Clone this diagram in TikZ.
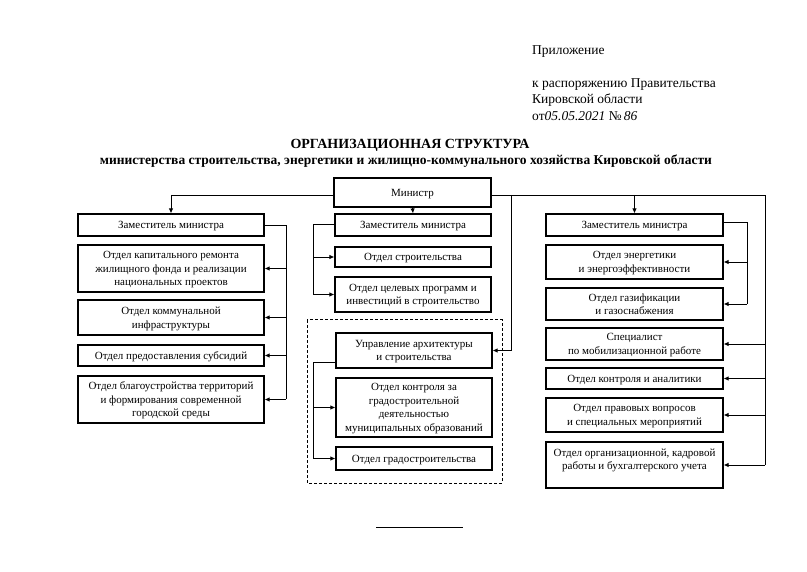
\documentclass[tikz,border=0pt]{standalone}
\usepackage{fontspec}
\setmainfont{Liberation Serif}
\usetikzlibrary{arrows.meta}
\begin{document}
\begin{tikzpicture}[x=1pt,y=-1pt,
  box/.style={draw, line width=1.1pt, inner sep=1pt, align=center, text depth=0pt, font=\fontsize{11}{13.5}\selectfont},
  arr/.style={line width=0.9pt, -{Latex[length=5pt,width=4.5pt]}},
  ln/.style={line width=0.9pt},
  hdr/.style={anchor=west, inner sep=0pt, font=\fontsize{13.5}{15}\selectfont}]
\useasboundingbox[fill=white] (0,0) rectangle (807,572);
% header
\node[hdr] (h1) at (532,52) {Приложение};
\node[hdr] (h2) at (532,85) {к распоряжению Правительства};
\node[hdr] (h3) at (532,100) {Кировской области};
\node[hdr] (h4) at (532,116) {от{\itshape 05.05.2021} №{\itshape\,86}};
\node[font=\bfseries\fontsize{14}{16}\selectfont, inner sep=0pt] (t1) at (410,145) {ОРГАНИЗАЦИОННАЯ СТРУКТУРА};
\node[font=\bfseries\fontsize{13.5}{15}\selectfont, inner sep=0pt] (t2) at (406,161) {министерства строительства, энергетики и жилищно-коммунального хозяйства Кировской области};
% boxes
\node[box, minimum width=157pt, minimum height=29pt] (min) at (412.5,192.5) {Министр};
\node[box, minimum width=186pt, minimum height=22pt] (ld) at (171,225) {Заместитель министра};
\node[box, minimum width=186pt, minimum height=47pt] (l1) at (171,268.5) {Отдел капитального ремонта\\жилищного фонда и реализации\\национальных проектов};
\node[box, minimum width=186pt, minimum height=35pt] (l2) at (171,317.5) {Отдел коммунальной\\инфраструктуры};
\node[box, minimum width=186pt, minimum height=21pt] (l3) at (171,355.5) {Отдел предоставления субсидий};
\node[box, minimum width=186pt, minimum height=47pt] (l4) at (171,399.5) {Отдел благоустройства территорий\\и формирования современной\\городской среды};
\node[box, minimum width=156pt, minimum height=22pt] (md) at (413,225) {Заместитель министра};
\node[box, minimum width=156pt, minimum height=20pt] (m1) at (413,257) {Отдел строительства};
\node[box, minimum width=156pt, minimum height=35pt] (m2) at (413,294.5) {Отдел целевых программ и\\инвестиций в строительство};
\draw[line width=1pt, densely dashed] (307,320) rectangle (502,483);
\node[box, minimum width=156pt, minimum height=35pt] (m3) at (414,350.5) {Управление архитектуры\\и строительства};
\node[box, minimum width=156pt, minimum height=59pt] (m4) at (414,407.5) {Отдел контроля за\\градостроительной\\деятельностью\\муниципальных образований};
\node[box, minimum width=156pt, minimum height=23pt] (m5) at (414,458.5) {Отдел градостроительства};
\node[box, minimum width=177pt, minimum height=22pt] (rd) at (634.5,225) {Заместитель министра};
\node[box, minimum width=177pt, minimum height=34pt] (r1) at (634.5,262) {Отдел энергетики\\и энергоэффективности};
\node[box, minimum width=177pt, minimum height=32pt] (r2) at (634.5,304) {Отдел газификации\\и газоснабжения};
\node[box, minimum width=177pt, minimum height=32pt] (r3) at (634.5,344) {Специалист\\по мобилизационной работе};
\node[box, minimum width=177pt, minimum height=21pt] (r4) at (634.5,378.5) {Отдел контроля и аналитики};
\node[box, minimum width=177pt, minimum height=34pt] (r5) at (634.5,415) {Отдел правовых вопросов\\и специальных мероприятий};
\node[box, minimum width=177pt, minimum height=46pt, text depth=12pt] (r6) at (634.5,465) {Отдел организационной, кадровой\\работы и бухгалтерского учета};
% coordinates
\coordinate (ml) at (334,195);
\coordinate (mr) at (491,195);
\coordinate (lx) at (286,225);
\coordinate (mx) at (313,224);
\coordinate (mx2) at (313,362);
\coordinate (ax) at (511,195);
\coordinate (rx) at (747,222);
\coordinate (fx) at (765,195);
% connectors
\draw[ln] (ml) -- (ml -| ld.north);
\draw[arr] (ml -| ld.north) -- (ld.north);
\draw[arr] (min.south) -- (md.north);
\draw[ln] (mr) -- (fx) -- (fx |- r6.east);
\draw[arr] (ax |- mr) -- (ax |- m3.east) -- (m3.east);
\draw[arr] (mr -| rd.north) -- (rd.north);
% left
\draw[ln] (ld.east |- lx) -- (lx) -- (lx |- l4.east);
\foreach \n in {l1,l2,l3,l4} \draw[arr] (lx |- \n.east) -- (\n.east);
% middle
\draw[ln] (md.west |- mx) -- (mx) -- (mx |- m2.west);
\foreach \n in {m1,m2} \draw[arr] (mx |- \n.west) -- (\n.west);
\draw[ln] (m3.west |- mx2) -- (mx2) -- (mx2 |- m5.west);
\foreach \n in {m4,m5} \draw[arr] (mx2 |- \n.west) -- (\n.west);
% right
\draw[ln] (rd.east |- rx) -- (rx) -- (rx |- r2.east);
\foreach \n in {r1,r2} \draw[arr] (rx |- \n.east) -- (\n.east);
\foreach \n in {r3,r4,r5,r6} \draw[arr] (fx |- \n.east) -- (\n.east);
% bottom rule
\coordinate (b1) at (376,527);
\coordinate (b2) at (463,527);
\draw[ln] (b1) -- (b2);
\end{tikzpicture}
\end{document}
